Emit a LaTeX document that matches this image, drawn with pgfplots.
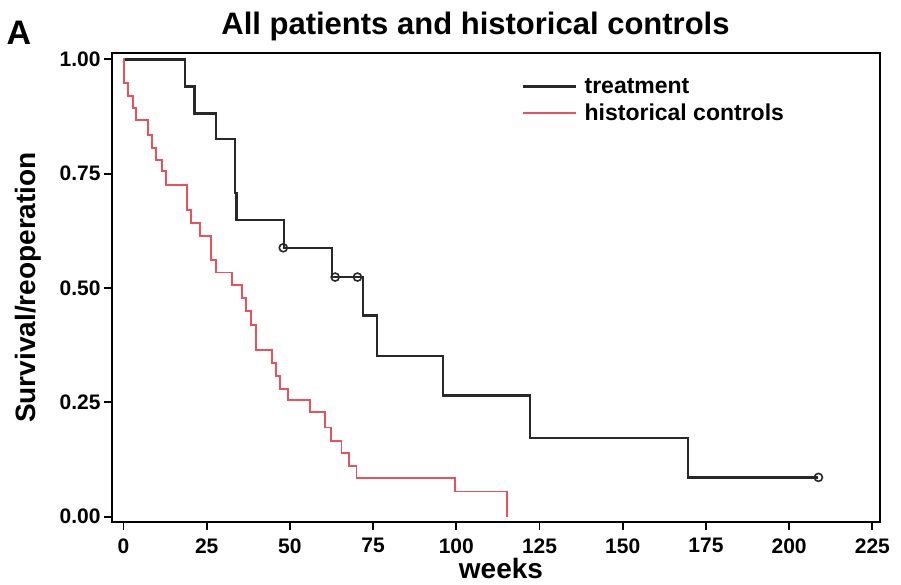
\documentclass[border=0pt]{standalone}
\usepackage{fontspec}
\setmainfont{Liberation Sans}
\usepackage{pgfplots}
\pgfplotsset{compat=1.18}

\definecolor{trt}{RGB}{40,40,40}
\definecolor{ctl}{RGB}{236,80,92}

\begin{document}
\begin{tikzpicture}
\useasboundingbox (0pt,0pt) rectangle (901pt,584pt);
\begin{axis}[
  at={(112pt,62pt)}, anchor=south west,
  width=768pt, height=469pt, scale only axis,
  xmin=-3.45, xmax=227.3, ymin=-0.0116, ymax=1.014,
  axis line style={line width=1.8pt},
  xtick={0,25,...,225}, ytick={0,0.25,0.5,0.75,1},
  xtick pos=bottom, ytick pos=left,
  tick align=outside, major tick length=8pt,
  every tick/.style={black, line width=1.8pt},
  tick label style={font=\fontsize{21}{24}\selectfont\bfseries},
  /pgf/number format/assume math mode=true,
  yticklabel style={/pgf/number format/.cd, fixed, fixed zerofill, precision=2},
  xticklabel style={yshift=-5pt, /pgf/number format/.cd, fixed, precision=0},
  title={All patients and historical controls},
  title style={at={(axis description cs:0.4733,1.0277)}, anchor=base,
    font=\fontsize{31}{36}\selectfont\bfseries},
  xlabel={weeks},
  xlabel style={at={(axis description cs:0.5065,-0.1205)}, anchor=base,
    font=\fontsize{28}{32}\selectfont\bfseries},
  ylabel={Survival/reoperation},
  ylabel style={at={(axis description cs:-0.1087,0.5)}, anchor=center,
    font=\fontsize{28}{32}\selectfont\bfseries},
  legend style={at={(axis description cs:0.534,0.951)}, anchor=north west,
    draw=none, fill=none, inner sep=0pt, row sep=5pt, column sep=5pt,
    font=\fontsize{23}{26}\selectfont\bfseries},
  legend cell align=left,
  legend image code/.code={\draw[#1] (0pt,0pt) -- (53pt,0pt);},
]

% treatment group (Kaplan-Meier steps)
\addplot[const plot, trt, line width=2.3pt] coordinates {
  (0,1.000) (18.5,0.941) (21.3,0.882) (27.8,0.826) (33.6,0.708)
  (34.0,0.649) (48.3,0.588) (62.6,0.524) (72.0,0.440) (76.1,0.352)
  (96.1,0.265) (122.1,0.172) (169.7,0.086) (208.8,0.086)
};
\addlegendentry{treatment}

% historical controls
\addplot[const plot, ctl, line width=1.9pt] coordinates {
  (0,1.000) (0.2,0.948) (1.45,0.919) (2.95,0.894) (3.75,0.868)
  (7.5,0.835) (8.5,0.806) (9.7,0.780) (11.5,0.755) (12.8,0.726)
  (19.0,0.670) (20.3,0.643) (23.0,0.613) (26.3,0.562) (27.7,0.534)
  (32.5,0.506) (35.5,0.478) (36.8,0.449) (38.3,0.420) (39.8,0.365)
  (44.5,0.336) (45.8,0.307) (47.0,0.280) (49.3,0.255) (56.0,0.228)
  (60.5,0.195) (62.3,0.166) (65.5,0.139) (67.8,0.110) (70.0,0.084)
  (99.7,0.055) (115.1,0.000)
};
\addlegendentry{historical controls}

% censored observations, treatment group
\addplot[only marks, mark=o, mark size=4pt, trt,
  mark options={line width=1.6pt}, forget plot] coordinates {
  (48.0,0.588) (63.6,0.524) (70.3,0.524) (208.8,0.086)
};
\end{axis}
\node[anchor=base west, font=\fontsize{34}{40}\selectfont\bfseries] at (3pt,539pt) {A};
\end{tikzpicture}
\end{document}
